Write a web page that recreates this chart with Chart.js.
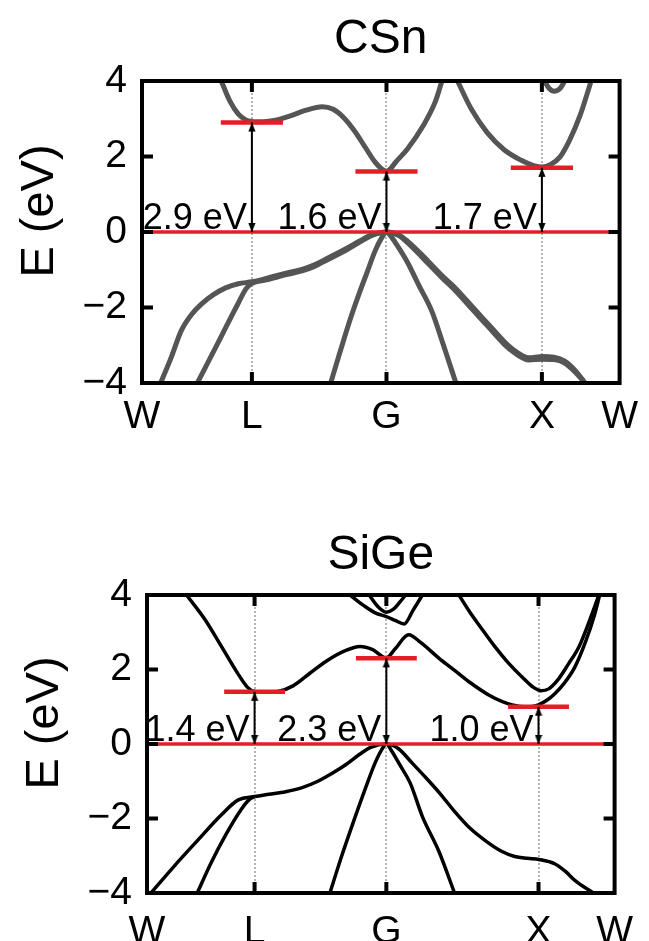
<!DOCTYPE html>
<html>
<head>
<meta charset="utf-8">
<script src="https://cdn.jsdelivr.net/npm/chart.js@4.4.1/dist/chart.umd.min.js"></script>
<style>
  html, body { margin: 0; padding: 0; background: #fff; }
  body { width: 649px; height: 941px; position: relative; overflow: hidden; }
  canvas { position: absolute; left: 0; }
  #csn { top: 0; }
  #sige { top: 470px; }
</style>
</head>
<body>
<canvas id="csn" width="649" height="470"></canvas>
<canvas id="sige" width="649" height="471"></canvas>
<script>
// High-symmetry path W-L-G-X-W, distances in units of 2*pi/a
const kLabels = ['W', 'L', 'G', 'X', 'W'];
const kPos = [0, 0.7071, 1.5731, 2.5731, 3.0731];
const yTicks = [-4, -2, 0, 2, 4];
const yTickLabels = ['\u22124', '\u22122', '0', '2', '4'];

// gaps are marked at L, G and X (indices into kPos)
const gapPoints = [1, 2, 3];
const csnGaps = [2.9, 1.6, 1.7];
const sigeGaps = [1.4, 2.3, 1.0];

// ---- CSn bands: [k, E(eV)] ----
const csnCond1 = [[0.51,4.0],[0.564,3.48],[0.62,3.12],[0.668,2.97],[0.707,2.93],[0.78,2.92],[0.86,2.96],[0.95,3.07],[1.05,3.22],[1.16,3.32],[1.23,3.25],[1.30,3.02],[1.37,2.66],[1.44,2.22],[1.50,1.85],[1.545,1.66],[1.573,1.61],[1.60,1.68],[1.63,1.84],[1.708,2.2],[1.81,2.82],[1.89,3.48],[1.93,4.0]];
const csnCond2 = [[2.03,4.0],[2.12,3.25],[2.22,2.64],[2.33,2.18],[2.44,1.9],[2.52,1.76],[2.573,1.72],[2.63,1.79],[2.69,1.99],[2.75,2.42],[2.82,3.10],[2.89,4.0]];
const csnCond3 = [[2.59,4.0],[2.62,3.8],[2.65,3.73],[2.69,3.8],[2.72,4.0]];
const csnVal1 = [[0.12,-4.0],[0.19,-3.3],[0.252,-2.62],[0.32,-2.18],[0.382,-1.91],[0.46,-1.66],[0.538,-1.48],[0.62,-1.37],[0.707,-1.32],[0.80,-1.23],[0.928,-1.09],[1.03,-0.99],[1.11,-0.87],[1.20,-0.68],[1.318,-0.43],[1.40,-0.24],[1.48,-0.07],[1.573,0],[1.65,-0.07],[1.708,-0.24],[1.77,-0.48],[1.838,-0.76],[1.93,-1.15],[2.02,-1.5],[2.13,-2.0],[2.23,-2.45],[2.33,-2.9],[2.40,-3.15],[2.49,-3.33],[2.573,-3.30],[2.65,-3.32],[2.72,-3.42],[2.79,-3.68],[2.85,-4.0]];
const csnVal2 = [[0.356,-4.0],[0.45,-3.25],[0.54,-2.52],[0.62,-1.88],[0.67,-1.5],[0.707,-1.36],[0.80,-1.27],[0.928,-1.13],[1.03,-1.03],[1.11,-0.91],[1.20,-0.72],[1.318,-0.47],[1.40,-0.27],[1.48,-0.09],[1.573,0],[1.65,-0.09],[1.708,-0.28],[1.77,-0.53],[1.838,-0.82],[1.93,-1.21],[2.02,-1.57],[2.13,-2.07],[2.23,-2.52],[2.33,-2.97],[2.40,-3.21],[2.49,-3.39],[2.573,-3.37],[2.65,-3.38],[2.72,-3.47],[2.79,-3.72],[2.85,-4.0]];
const csnVal3 = [[1.214,-4.0],[1.28,-3.1],[1.344,-2.26],[1.40,-1.6],[1.45,-1.05],[1.50,-0.5],[1.54,-0.17],[1.573,0],[1.60,-0.1],[1.63,-0.28],[1.708,-0.8],[1.78,-1.4],[1.864,-2.09],[1.94,-3.0],[2.02,-4.0]];

// ---- SiGe bands: [k, E(eV)] ----
const sigeCond1 = [[0.26,4.0],[0.383,3.33],[0.489,2.62],[0.594,1.91],[0.661,1.52],[0.707,1.41],[0.78,1.39],[0.86,1.41],[0.96,1.56],[1.07,1.9],[1.18,2.23],[1.30,2.5],[1.40,2.62],[1.48,2.54],[1.573,2.31],[1.63,2.55],[1.72,2.93],[1.80,2.72],[1.92,2.3],[2.03,1.95],[2.13,1.63],[2.24,1.33],[2.34,1.13],[2.45,1.01],[2.52,1.0],[2.573,1.05],[2.63,1.18],[2.68,1.35],[2.74,1.62],[2.81,2.05],[2.88,2.72],[2.94,3.45],[2.975,4.0]];
const sigeCond2 = [[2.05,4.0],[2.12,3.55],[2.19,3.15],[2.285,2.62],[2.37,2.2],[2.47,1.78],[2.54,1.52],[2.59,1.43],[2.64,1.48],[2.70,1.72],[2.77,2.15],[2.84,2.62],[2.91,3.33],[2.97,4.0]];
const sigeCond3 = [[1.334,4.0],[1.43,3.7],[1.50,3.52],[1.573,3.42],[1.63,3.32],[1.69,3.22],[1.75,3.6],[1.81,4.0]];
const sigeCond4 = [[1.46,4.0],[1.52,3.68],[1.573,3.54],[1.62,3.62],[1.66,3.8],[1.70,4.0]];
const sigeVal1 = [[0.026,-4.0],[0.172,-3.31],[0.33,-2.6],[0.489,-1.9],[0.60,-1.5],[0.707,-1.41],[0.80,-1.35],[0.911,-1.28],[1.02,-1.17],[1.123,-1.0],[1.22,-0.78],[1.308,-0.55],[1.40,-0.27],[1.47,-0.09],[1.573,0],[1.651,-0.12],[1.74,-0.5],[1.836,-0.92],[1.93,-1.35],[2.021,-1.81],[2.12,-2.25],[2.232,-2.62],[2.33,-2.88],[2.417,-3.02],[2.50,-3.07],[2.576,-3.1],[2.682,-3.22],[2.75,-3.42],[2.814,-3.67],[2.933,-4.0]];
const sigeVal2 = [[0.33,-4.0],[0.42,-3.2],[0.52,-2.42],[0.62,-1.75],[0.67,-1.5],[0.707,-1.41]];
const sigeVal3 = [[1.202,-4.0],[1.28,-3.0],[1.36,-2.05],[1.43,-1.25],[1.50,-0.5],[1.54,-0.17],[1.573,0],[1.61,-0.2],[1.66,-0.55],[1.73,-1.05],[1.81,-1.95],[1.92,-2.9],[2.021,-4.0]];

const FONT = '"Liberation Sans", Arial, Helvetica, sans-serif';
const RED = '#e41e26';
const MARK_HALF = 0.2;   // half length of the band-edge markers, in k units

// arrow head whose tip sits at the centre of the image
function makeArrowHead() {
  const c = document.createElement('canvas');
  c.width = 8; c.height = 22;
  const g = c.getContext('2d');
  g.fillStyle = '#000';
  g.beginPath();
  g.moveTo(4, 11); g.lineTo(7.6, 20); g.lineTo(0.4, 20); g.closePath();
  g.fill();
  return c;
}
const arrowHead = makeArrowHead();

// frame, inward ticks, axis title and gap labels
const bandDecor = {
  id: 'bandDecor',
  afterDatasetsDraw(chart, args, opts) {
    const { ctx, chartArea: a, scales: { x, y } } = chart;
    ctx.save();
    // gap labels
    ctx.font = `${opts.gapFontSize}px ${FONT}`;
    ctx.fillStyle = '#000';
    ctx.textAlign = 'right';
    ctx.textBaseline = 'alphabetic';
    const y0 = y.getPixelForValue(0);
    opts.gaps.forEach((g, i) => {
      const px = x.getPixelForValue(kPos[gapPoints[i]]);
      ctx.fillText(g.toFixed(1) + ' eV', px - 5, y0 - 3);
    });
    // inward ticks
    ctx.strokeStyle = '#000';
    ctx.lineWidth = 4;
    ctx.lineCap = 'butt';
    const tl = 11;
    ctx.beginPath();
    yTicks.forEach(v => {
      const py = y.getPixelForValue(v);
      ctx.moveTo(a.left, py); ctx.lineTo(a.left + tl, py);
      ctx.moveTo(a.right, py); ctx.lineTo(a.right - tl, py);
    });
    gapPoints.forEach(k => {
      const px = x.getPixelForValue(kPos[k]);
      ctx.moveTo(px, a.top); ctx.lineTo(px, a.top + tl);
      ctx.moveTo(px, a.bottom); ctx.lineTo(px, a.bottom - tl);
    });
    ctx.stroke();
    // frame
    ctx.lineJoin = 'miter';
    ctx.strokeRect(a.left, a.top, a.right - a.left, a.bottom - a.top);
    // axis title
    ctx.translate(opts.titleX, (a.top + a.bottom) / 2 + opts.titleShift);
    ctx.rotate(-Math.PI / 2);
    ctx.font = `47px ${FONT}`;
    ctx.textAlign = 'center';
    ctx.textBaseline = 'middle';
    ctx.fillText('E (eV)', 0, 0);
    ctx.restore();
  }
};

function toXY(arr) { return arr.map(p => ({ x: p[0], y: p[1] })); }

function buildChart(id, spec) {
  const datasets = [];
  spec.bands.forEach(b => datasets.push({
    data: toXY(b),
    borderColor: spec.bandColor,
    borderWidth: spec.bandWidth,
    pointRadius: 0,
    cubicInterpolationMode: 'monotone',
    fill: false,
    order: 5
  }));
  // valence band maximum reference line
  datasets.push({
    data: [{ x: kPos[0], y: 0 }, { x: kPos[kPos.length - 1], y: 0 }],
    borderColor: RED, borderWidth: 3.5, pointRadius: 0, order: 3
  });
  spec.gaps.forEach((g, i) => {
    const k = kPos[gapPoints[i]];
    // conduction band edge marker
    datasets.push({
      data: [{ x: k - MARK_HALF, y: g }, { x: k + MARK_HALF, y: g }],
      borderColor: RED, borderWidth: 4.5, pointRadius: 0, order: 2
    });
    // double arrow spanning the gap
    datasets.push({
      data: [{ x: k, y: 0 }, { x: k, y: g }],
      borderColor: '#000', borderWidth: 2,
      pointStyle: arrowHead, pointRadius: 5, pointRotation: [180, 0],
      order: 1
    });
  });

  return new Chart(document.getElementById(id), {
    type: 'line',
    data: { datasets },
    options: {
      responsive: false,
      animation: false,
      devicePixelRatio: 1,
      layout: { padding: { left: 0, right: spec.padRight, top: spec.padTop, bottom: 0 } },
      plugins: {
        legend: { display: false },
        tooltip: { enabled: false },
        title: {
          display: true,
          fullSize: false,
          text: spec.title,
          color: '#000',
          font: { family: FONT, size: 48, weight: 'normal', lineHeight: 1 },
          padding: { top: 0, bottom: spec.titleGap }
        },
        bandDecor: { gaps: spec.gaps, gapFontSize: 36, titleX: spec.yTitleX, titleShift: -21 }
      },
      scales: {
        x: {
          type: 'linear',
          min: kPos[0],
          max: kPos[kPos.length - 1],
          afterBuildTicks: s => { s.ticks = kPos.map(v => ({ value: v })); },
          afterFit: s => { s.height = spec.xAxisHeight; },
          ticks: {
            autoSkip: false,
            maxRotation: 0,
            padding: spec.xLabelPad,
            color: '#000',
            font: { family: FONT, size: 39 },
            callback: (v, i) => kLabels[i]
          },
          grid: {
            drawTicks: false,
            lineWidth: 2,
            color: c => (c.index === 0 || c.index === kPos.length - 1) ? 'rgba(0,0,0,0)' : '#b4b4b4'
          },
          border: { display: false, dash: [2, 2] }
        },
        y: {
          min: yTicks[0],
          max: yTicks[yTicks.length - 1],
          afterBuildTicks: s => { s.ticks = yTicks.map(v => ({ value: v })); },
          afterFit: s => { s.width = spec.yAxisWidth; },
          ticks: {
            padding: 15,
            color: '#000',
            font: { family: FONT, size: 39 },
            callback: (v, i) => yTickLabels[i]
          },
          grid: { display: false, drawTicks: false },
          border: { display: false }
        }
      }
    },
    plugins: [bandDecor]
  });
}

buildChart('csn', {
  title: 'CSn',
  bands: [csnVal3, csnVal2, csnVal1, csnCond1, csnCond2, csnCond3],
  bandColor: '#555555',
  bandWidth: 5,
  gaps: csnGaps,
  padTop: 16, titleGap: 17, padRight: 19,
  yAxisWidth: 142, xAxisHeight: 87, xLabelPad: 11,
  yTitleX: 40
});

buildChart('sige', {
  title: 'SiGe',
  bands: [sigeVal3, sigeVal2, sigeVal1, sigeCond1, sigeCond2, sigeCond3, sigeCond4],
  bandColor: '#000000',
  bandWidth: 3.5,
  gaps: sigeGaps,
  padTop: 62, titleGap: 15, padRight: 21,
  yAxisWidth: 147, xAxisHeight: 48, xLabelPad: 16,
  yTitleX: 45
});
</script>
</body>
</html>
